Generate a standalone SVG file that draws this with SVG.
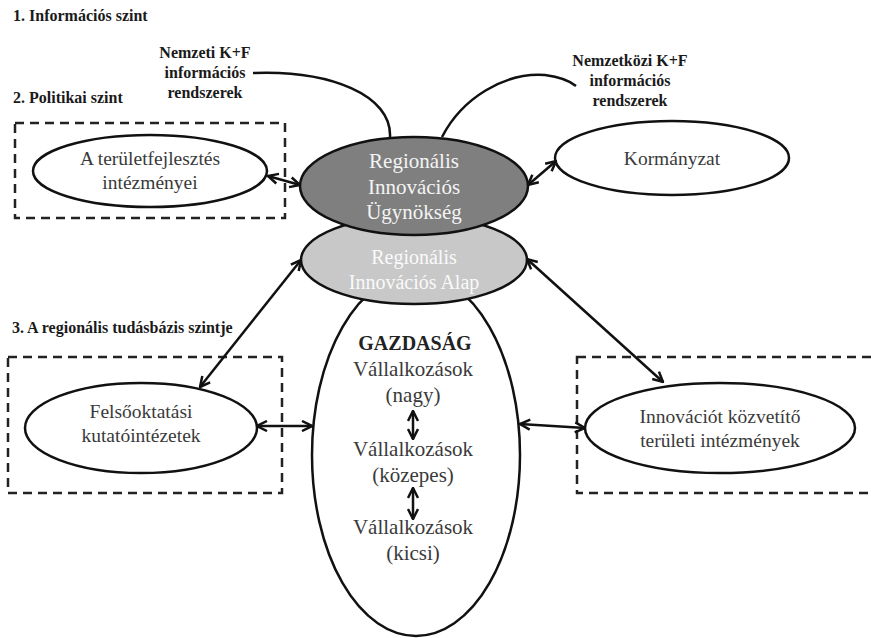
<svg xmlns="http://www.w3.org/2000/svg" width="871" height="638" viewBox="0 0 871 638">
<style>
text{font-family:"Liberation Serif","DejaVu Serif",serif;text-anchor:middle}
.lbl{font-size:16px;fill:#1a1a1a;font-weight:bold}
.lvl{font-size:16px;fill:#1a1a1a;font-weight:bold;text-anchor:start}
.in{font-size:19.5px;fill:#3a3a3a}
.big{font-size:21px;fill:#3a3a3a}
.wt{fill:#f4f4f4}
.el{stroke:#111;stroke-width:2.5}
.box{fill:none;stroke:#222;stroke-width:2.5;stroke-dasharray:9,6}
.cn{fill:none;stroke:#111;stroke-width:2.5}
.ar{fill:none;stroke:#111;stroke-width:2.5;marker-start:url(#ah);marker-end:url(#ah)}
</style>
<defs>
<marker id="ah" viewBox="0 0 10 10" refX="9" refY="5" markerWidth="5" markerHeight="5" orient="auto-start-reverse" markerUnits="strokeWidth">
<path d="M1,1 L9,5 L1,9" fill="none" stroke="#111" stroke-width="2"/>
</marker>
</defs>
<rect width="871" height="638" fill="#fff"/>
<g id="levels">
<text class="lvl" x="13" y="21">1. Információs szint</text>
<text class="lvl" x="13" y="103">2. Politikai szint</text>
<text class="lvl" x="12" y="333">3. A regionális tudásbázis szintje</text>
</g>
<g id="box-politikai"><rect class="box" x="15" y="123" width="270" height="95"/></g>
<g id="box-tudas"><rect class="box" x="8" y="357" width="274" height="136"/></g>
<g id="box-kozvetito"><rect class="box" x="577" y="357" width="310" height="136"/></g>
<g id="nemzeti">
<text class="lbl" x="205" y="58">Nemzeti K+F</text>
<text class="lbl" x="205" y="78">információs</text>
<text class="lbl" x="205" y="98">rendszerek</text>
</g>
<g id="nemzetkozi">
<text class="lbl" x="630" y="66">Nemzetközi K+F</text>
<text class="lbl" x="630" y="86">információs</text>
<text class="lbl" x="630" y="106">rendszerek</text>
</g>
<g id="gazdasag">
<ellipse class="el" cx="416" cy="455" rx="104" ry="181" fill="#fff"/>
<text x="415" y="350" style="font-size:20px;font-weight:bold;fill:#222">GAZDASÁG</text>
<text class="big" x="413" y="376">Vállalkozások</text>
<text class="big" x="413" y="402">(nagy)</text>
<text class="big" x="413" y="456">Vállalkozások</text>
<text class="big" x="413" y="482">(közepes)</text>
<text class="big" x="413" y="534">Vállalkozások</text>
<text class="big" x="413" y="560">(kicsi)</text>
</g>
<g id="alap">
<ellipse class="el" cx="414" cy="260" rx="113" ry="44" fill="#c8c8c8"/>
<text class="in wt" x="414" y="264" style="font-size:20px;fill:#fafafa">Regionális</text>
<text class="in wt" x="414" y="289" style="font-size:20px;fill:#fafafa">Innovációs Alap</text>
</g>
<g id="ugynokseg">
<ellipse class="el" cx="414" cy="186" rx="114" ry="49" fill="#7f7f7f"/>
<text class="wt" x="414" y="168" style="font-size:21px">Regionális</text>
<text class="wt" x="414" y="194" style="font-size:21px">Innovációs</text>
<text class="wt" x="414" y="219" style="font-size:21px">Ügynökség</text>
</g>
<g id="teruletfejlesztes">
<ellipse class="el" cx="150" cy="171" rx="117" ry="36" fill="#fff"/>
<text class="in" x="150" y="165">A területfejlesztés</text>
<text class="in" x="150" y="189">intézményei</text>
</g>
<g id="kormanyzat">
<ellipse class="el" cx="672" cy="158" rx="117" ry="37" fill="#fff"/>
<text class="in" x="672" y="165">Kormányzat</text>
</g>
<g id="felsooktatas">
<ellipse class="el" cx="141" cy="428" rx="116" ry="45" fill="#fff"/>
<text class="in" x="141" y="418">Felsőoktatási</text>
<text class="in" x="141" y="442">kutatóintézetek</text>
</g>
<g id="kozvetito">
<ellipse class="el" cx="720" cy="428" rx="135" ry="45" fill="#fff"/>
<text class="in" x="720" y="423">Innovációt közvetítő</text>
<text class="in" x="720" y="447">területi intézmények</text>
</g>
<g id="connectors">
<path class="cn" d="M253,73 C330,70 392,95 390,137"/>
<path class="cn" d="M442,137 C462,98 505,72 545,75 C560,77 570,81 576,86"/>
<path class="ar" d="M268,176 L300,185"/>
<path class="ar" d="M528,185 L556,161"/>
<path class="ar" d="M301,260 L200,387"/>
<path class="ar" d="M527,259 L663,382"/>
<path class="ar" d="M257,426 L312,426"/>
<path class="ar" d="M520,424 L585,428"/>
<path class="ar" d="M413,411 L413,439"/>
<path class="ar" d="M413,488 L413,519"/>
</g>
</svg>
